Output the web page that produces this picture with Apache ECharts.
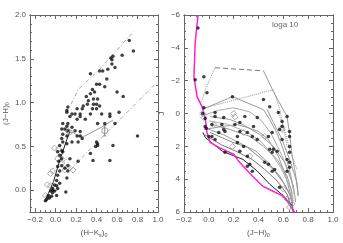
<!DOCTYPE html>
<html><head><meta charset="utf-8">
<script src="https://cdn.jsdelivr.net/npm/echarts@6/dist/echarts.min.js"></script>
<style>html,body{margin:0;padding:0;background:#fff}#c{width:343px;height:243px}</style>
</head><body><div id="c"></div>
<script>
// ---------- LEFT PANEL: (J-H)0 vs (H-Ks)0 ----------
const LX_LABELS = [-0.2, 0.0, 0.2, 0.4, 0.6, 0.8, 1.0];
const LY_LABELS = [0.0, 0.5, 1.0, 1.5, 2.0];
const L_STARS = [[0.72,1.71],[0.76,1.59],[0.65,1.54],[0.56,1.53],[0.55,1.49],[0.54,1.51],[0.58,1.40],[0.55,1.44],[0.51,1.38],[0.46,1.36],[0.43,1.36],[0.34,1.33],[0.50,1.27],[0.43,1.21],[0.40,1.21],[0.48,1.18],[0.36,1.15],[0.30,1.07],[0.34,1.10],[0.38,1.12],[0.41,1.04],[0.37,1.04],[0.32,1.02],[0.27,0.96],[0.31,0.98],[0.37,0.98],[0.40,0.98],[0.43,0.96],[0.26,0.93],[0.21,0.93],[0.24,0.87],[0.19,0.87],[0.16,0.87],[0.12,0.95],[0.14,0.84],[0.21,0.81],[0.24,0.84],[0.29,0.81],[0.34,0.87],[0.36,0.93],[0.40,0.93],[0.45,0.87],[0.53,0.87],[0.53,0.84],[0.48,0.76],[0.62,0.89],[0.58,0.76],[0.41,0.76],[0.12,0.76],[0.11,0.73],[0.09,0.70],[0.12,0.68],[0.16,0.72],[0.19,0.68],[0.21,0.62],[0.24,0.67],[0.24,0.62],[0.11,0.89],[0.07,0.76],[0.06,0.70],[0.07,0.64],[0.11,0.62],[0.06,0.59],[0.07,0.55],[0.11,0.53],[0.16,0.55],[0.22,0.55],[0.26,0.59],[0.04,0.51],[0.06,0.45],[0.02,0.44],[0.07,0.44],[0.04,0.40],[0.06,0.36],[0.03,0.33],[0.02,0.27],[0.04,0.22],[0.02,0.17],[0.01,0.11],[0.04,0.08],[-0.01,0.06],[0.01,0.05],[-0.03,0.02],[-0.03,0.00],[-0.01,-0.01],[-0.05,-0.01],[-0.03,-0.03],[-0.07,-0.06],[-0.04,-0.07],[-0.08,-0.09],[-0.06,-0.09],[-0.09,-0.11],[-0.10,-0.12],[0.01,-0.06],[0.02,0.02],[0.10,-0.02],[0.11,0.14],[0.09,0.25],[0.06,0.28],[0.12,0.22],[0.14,0.36],[0.12,0.28],[0.22,0.33],[0.365,0.34],[0.34,0.42],[0.53,0.34],[0.56,0.51],[0.41,0.51],[0.40,0.55],[0.39,0.50],[0.80,0.62],[0.66,1.07],[0.60,1.12],[0.11,0.91],[0.41,0.53]];
const L_DIAMONDS = [[0.02,0.36],[0.07,0.35],[0.06,0.31],[0.12,0.27],[0.17,0.23],[0.09,0.23],[-0.03,0.22],[-0.05,0.19],[-0.08,0.06],[-0.05,0.05],[-0.10,-0.06],[-0.07,-0.07],[0.0,0.02],[0.12,0.68],[0.14,0.66],[0.03,0.47],[-0.01,0.48]];
const L_DWARF = [[-0.09,-0.09],[-0.02,0.10],[0.03,0.30],[0.07,0.44],[0.11,0.58],[0.14,0.67]];
const L_GIANT = [[0.13,0.66],[0.17,0.66],[0.22,0.62],[0.27,0.61],[0.32,0.64],[0.45,0.72],[0.56,0.80]];
const L_RED_UP = [[0.15,0.98],[0.22,1.15],[0.43,1.38],[0.76,1.81]];
const L_RED_LOW = [[0.14,0.22],[0.22,0.33],[0.99,1.23]];
const L_ERR = {x:0.48, y:0.68, lo:0.62, hi:0.74};

// ---------- RIGHT PANEL: J vs (J-H)0 ----------
const RX_LABELS = [-0.2, 0.0, 0.2, 0.4, 0.6, 0.8, 1.0];
const RY_LABELS = [-6, -4, -2, 0, 2, 4, 6];
const R_STARS = [[-0.087,-5.21],[-0.11,-2.06],[-0.04,-2.24],[-0.015,-1.27],[0.19,-1.03],[0.44,-0.85],[0.49,-0.42],[0.56,-0.06],[-0.04,-0.36],[-0.05,0.0],[0.05,0.18],[0.12,0.24],[0.29,0.18],[0.39,0.24],[0.59,0.48],[0.63,0.18],[0.025,0.67],[0.105,0.67],[0.25,0.55],[0.36,0.79],[0.13,1.09],[0.08,1.15],[0.05,1.58],[0.025,1.39],[0.35,1.39],[0.31,1.15],[0.23,1.39],[0.23,1.76],[0.39,1.58],[0.48,1.39],[0.51,1.15],[0.49,2.18],[0.52,2.18],[0.51,2.36],[0.55,2.3],[0.59,1.58],[0.57,0.97],[0.59,0.79],[0.65,1.09],[0.65,1.39],[0.65,2.0],[0.65,2.36],[0.28,2.0],[0.25,2.3],[0.13,2.36],[0.31,2.6],[0.45,2.97],[0.48,3.09],[0.51,3.52],[0.53,3.4],[0.63,2.79],[0.65,2.97],[0.63,3.52],[0.65,3.27],[0.33,3.09],[0.35,3.52],[0.31,3.21],[0.05,-0.06],[0.12,0.97],[0.21,0.67],[0.25,1.09],[-0.03,0.79],[0.0,1.39],[0.57,4.48],[-0.03,0.3],[-0.02,0.9]];
const R_DIAMONDS = [[0.2,0.0],[0.21,0.2],[0.04,0.67],[0.28,1.15],[0.45,1.39],[0.19,2.0],[0.33,2.6],[0.59,0.97],[0.59,0.85],[-0.04,0.24],[-0.05,0.0],[0.66,5.3],[0.65,5.7],[0.67,5.5],[0.6,4.6],[0.63,5.2]];
const R_PINK = [[-0.087,-6.0],[-0.11,-4.3],[-0.12,-2.24],[-0.095,-1.03],[-0.055,-0.42],[-0.03,0.24],[-0.015,1.15],[0.01,1.76],[0.08,2.06],[0.20,2.48],[0.24,2.9],[0.35,3.8],[0.43,4.4],[0.51,4.7],[0.59,5.0],[0.63,5.33],[0.69,6.0]];
const R_BLACK = [[-0.047,1.15],[-0.03,1.45],[0.01,1.7],[0.11,2.3],[0.275,2.79],[0.39,3.5],[0.49,4.3],[0.6,5.0],[0.67,5.6],[0.68,6.0]];
const R_ISO1 = [[0.01,1.15],[0.195,1.76],[0.31,2.06],[0.41,2.67],[0.52,3.4],[0.6,4.2],[0.67,5.2],[0.68,6.0]];
const R_ISO2 = [[0.03,0.67],[0.17,0.97],[0.33,1.39],[0.44,2.0],[0.55,2.79],[0.63,3.8],[0.67,4.8],[0.66,5.8]];
const R_ISO3 = [[0.01,0.18],[0.17,0.36],[0.275,0.67],[0.41,1.27],[0.52,2.0],[0.61,2.97],[0.68,4.4],[0.7,5.4]];
const R_ISO4 = [[-0.04,0.97],[0.1,0.8],[0.23,0.67],[0.31,0.85],[0.4,1.09],[0.48,1.58],[0.56,2.6],[0.62,3.8],[0.66,5.0]];
const R_ISO5 = [[0.47,-0.24],[0.52,0.55],[0.59,1.58],[0.65,2.79],[0.71,4.2],[0.72,5.0]];
const R_ISO6 = [[0.55,-0.24],[0.61,0.97],[0.65,2.18],[0.71,3.4]];
const R_ISO7 = [[-0.03,1.3],[0.1,1.9],[0.22,2.3],[0.35,2.8],[0.45,3.4],[0.55,4.1],[0.63,4.9],[0.66,5.6]];
const R_ISO8 = [[-0.02,0.9],[0.12,1.3],[0.25,1.8],[0.38,2.3],[0.48,3.0],[0.57,3.8],[0.64,4.7],[0.67,5.4]];
const R_ISO9 = [[0.0,0.45],[0.15,0.65],[0.3,1.1],[0.42,1.7],[0.5,2.4],[0.58,3.3],[0.65,4.4],[0.68,5.2]];
const R_ISO10 = [[-0.04,0.1],[0.08,-0.2],[0.2,-0.35],[0.33,-0.1],[0.42,0.4],[0.5,1.2],[0.56,2.1],[0.62,3.1],[0.67,4.1],[0.69,5.0]];
const R_TOP_DASH = [[0.05,-2.79],[0.44,-2.6]];
const R_ENV1 = [[0.44,-2.6],[0.52,-1.33],[0.58,-0.5],[0.63,0.18],[0.65,1.2],[0.67,2.5],[0.7,3.8],[0.72,5.0]];
const R_DOT1 = [[0.05,-2.79],[-0.02,-1.6],[-0.06,-0.7]];
const R_ENV2 = [[-0.055,-0.24],[0.19,-1.03],[0.44,-0.24],[0.49,0.36],[0.55,1.2],[0.6,2.2],[0.65,3.4],[0.68,4.6]];
const R_DOT2 = [[-0.055,-0.3],[0.52,-1.45],[0.57,-0.3],[0.6,0.8],[0.63,2.0]];

const FONT = 'Liberation Sans';
const TXT = '#555';
const AX = '#666';
const GRAY = '#9a9a9a';

function steps(a, b, s) { const r = []; for (let v = a; v <= b + 1e-9; v += s) r.push(+v.toFixed(4)); return r; }
function fmt(v, dec) { const s = Math.abs(v).toFixed(dec); return (v < -1e-9 ? '\u2212' : '') + s; }

function makeAxes(type, grid, min, max, labels, minors, dec, nameCfg, inverse) {
  const isX = type === 'x';
  const sides = isX ? ['bottom', 'top'] : ['left', 'right'];
  const base = { type: 'value', gridIndex: grid, min, max, inverse: !!inverse, splitLine: { show: false },
    axisLine: { show: true, onZero: false, lineStyle: { color: AX, width: 1 } } };
  const out = [];
  out.push(Object.assign({}, base, {
    position: sides[0],
    axisLabel: { show: true, customValues: labels, formatter: v => fmt(v, dec), color: TXT, fontFamily: FONT, fontSize: 8, margin: 4 },
    axisTick: { show: true, inside: true, length: 4, customValues: labels, lineStyle: { color: AX } },
  }, nameCfg));
  out.push(Object.assign({}, base, { position: sides[1], axisLabel: { show: false },
    axisTick: { show: true, inside: true, length: 4, customValues: labels, lineStyle: { color: AX } } }));
  out.push(Object.assign({}, base, { position: sides[0], axisLabel: { show: false },
    axisTick: { show: true, inside: true, length: 2, customValues: minors, lineStyle: { color: AX } } }));
  out.push(Object.assign({}, base, { position: sides[1], axisLabel: { show: false },
    axisTick: { show: true, inside: true, length: 2, customValues: minors, lineStyle: { color: AX } } }));
  return out;
}

const rich = { s: { fontSize: 5.5, fontFamily: FONT, color: TXT, padding: [4, 0, 0, 0] } };
const nameStyle = { color: TXT, fontFamily: FONT, fontSize: 8, rich };

const xAxes = [].concat(
  makeAxes('x', 0, -0.25, 1.0, LX_LABELS, steps(-0.25, 1.0, 0.05), 1,
    { name: '(H\u2212K{s|s}){s|0}', nameLocation: 'middle', nameGap: 14, nameTextStyle: nameStyle }),
  makeAxes('x', 1, -0.2, 1.0, RX_LABELS, steps(-0.2, 1.0, 0.05), 1,
    { name: '(J\u2212H){s|0}', nameLocation: 'middle', nameGap: 14, nameTextStyle: nameStyle })
);
const yAxes = [].concat(
  makeAxes('y', 0, -0.25, 2.0, LY_LABELS, steps(-0.2, 2.0, 0.1), 1,
    { name: '(J\u2212H){s|0}', nameLocation: 'middle', nameGap: 18, nameTextStyle: nameStyle }),
  makeAxes('y', 1, -6, 6, RY_LABELS, steps(-6, 6, 0.5), 0,
    { name: 'J', nameLocation: 'middle', nameGap: 18, nameTextStyle: nameStyle }, true)
);

function line(data, grid, color, width, type, z) {
  return { type: 'line', data, xAxisIndex: grid * 4, yAxisIndex: grid * 4, showSymbol: false, symbol: 'none',
    lineStyle: { color, width, type: type || 'solid' }, silent: true, animation: false, z: z || 2 };
}
function dots(data, grid) {
  return { type: 'scatter', data, xAxisIndex: grid * 4, yAxisIndex: grid * 4, symbol: 'circle', symbolSize: 3.5,
    itemStyle: { color: '#111' }, animation: false, z: 5 };
}
function diam(data, grid) {
  return { type: 'scatter', data, xAxisIndex: grid * 4, yAxisIndex: grid * 4, symbol: 'diamond', symbolSize: 6,
    itemStyle: { color: 'rgba(0,0,0,0)', borderColor: '#999', borderWidth: 1 }, animation: false, z: 4 };
}
const DASHDOT = [4, 2, 1, 2];

const series = [
  line(L_RED_UP, 0, '#aaa', 1, DASHDOT),
  line(L_RED_LOW, 0, '#aaa', 1, DASHDOT),
  line(L_GIANT, 0, '#999', 1),
  line(L_DWARF, 0, '#222', 1),
  diam(L_DIAMONDS, 0),
  dots(L_STARS, 0),
  line([[L_ERR.x, L_ERR.lo], [L_ERR.x, L_ERR.hi]], 0, '#888', 1),
  line([[L_ERR.x - 0.015, L_ERR.hi], [L_ERR.x + 0.015, L_ERR.hi]], 0, '#888', 1),
  line([[L_ERR.x - 0.015, L_ERR.lo], [L_ERR.x + 0.015, L_ERR.lo]], 0, '#888', 1),
  { type: 'scatter', data: [[L_ERR.x, L_ERR.y]], xAxisIndex: 0, yAxisIndex: 0, symbol: 'circle', symbolSize: 6,
    itemStyle: { color: 'rgba(0,0,0,0)', borderColor: '#888', borderWidth: 1 }, animation: false },

  line(R_TOP_DASH, 1, '#777', 1, [5, 3]),
  line(R_ENV1, 1, GRAY, 1),
  line(R_DOT1, 1, GRAY, 1, 'dotted'),
  line(R_ENV2, 1, GRAY, 1),
  line(R_DOT2, 1, GRAY, 1, 'dotted'),
  line(R_ISO1, 1, '#888', 1),
  line(R_ISO2, 1, GRAY, 1),
  line(R_ISO3, 1, GRAY, 1),
  line(R_ISO4, 1, GRAY, 1),
  line(R_ISO5, 1, GRAY, 1),
  line(R_ISO6, 1, GRAY, 1, 'dotted'),
  line(R_ISO7, 1, '#777', 1),
  line(R_ISO8, 1, GRAY, 1),
  line(R_ISO9, 1, '#aaa', 1),
  line(R_ISO10, 1, '#aaa', 1),
  line(R_BLACK, 1, '#222', 1),
  line(R_PINK, 1, '#ff22cc', 1.5, 'solid', 3),
  diam(R_DIAMONDS, 1),
  dots(R_STARS, 1),
];

const chart = echarts.init(document.getElementById('c'), null, { renderer: 'canvas' });
chart.setOption({
  animation: false,
  backgroundColor: '#fff',
  grid: [
    { left: 30, top: 15, width: 128, height: 198 },
    { left: 184, top: 15, width: 149, height: 198 },
  ],
  xAxis: xAxes,
  yAxis: yAxes,
  series,
  graphic: [{ type: 'text', left: 272, top: 21, style: { text: 'loga 10', fontFamily: FONT, fontSize: 8, fill: '#666' } }],
});
</script></body></html>
